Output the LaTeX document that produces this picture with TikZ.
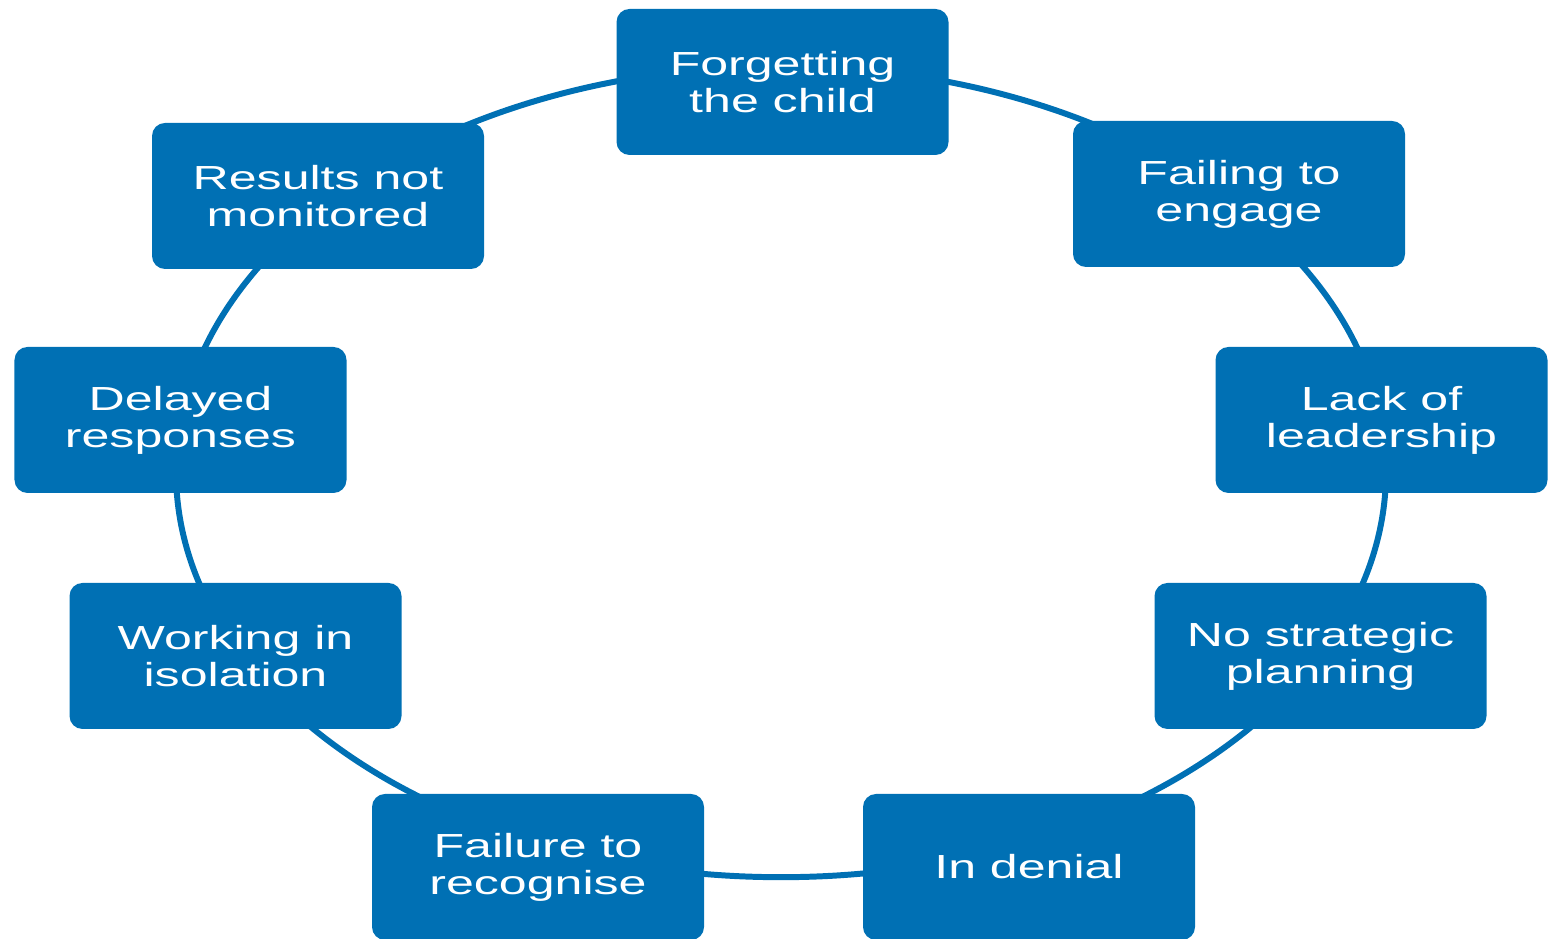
\documentclass[tikz,border=0pt]{standalone}
\usepackage{fontspec}
\usetikzlibrary{positioning}
\definecolor{ringblue}{RGB}{0,112,180}
\newfontfamily\ringfont[FakeStretch=1.5]{Liberation Sans}
\tikzset{
  stageblk/.style={rectangle,rounded corners=3.7pt,fill=ringblue,text=white,minimum width=3.32cm,minimum height=1.46cm,align=center,inner sep=2pt,font=\ringfont\fontsize{9.5}{10.5}\selectfont},
  ring/.style={draw=ringblue,line width=1.7pt}
}

\begin{document}
\begin{tikzpicture}
  \useasboundingbox (0,0) rectangle (15.48,9.39);
  % Ring behind the stages
  \coordinate (hub) at (7.81,4.673);
  \draw[ring] (hub) ellipse [x radius=6.05cm, y radius=4.055cm];

  % Stages, clockwise from the top
  \node[stageblk] (forget) at (7.825,8.57) {Forgetting\\the child};
  \node[stageblk] (engage) at (12.39,7.45) {Failing to\\engage};
  \node[stageblk] (lead)   at (13.815,5.19) {Lack of\\leadership};
  \node[stageblk] (plan)   at (13.205,2.83) {No strategic\\planning};
  \node[stageblk] (denial) at (10.29,0.72) {In denial};
  \node[stageblk] (recog)  at (5.38,0.72) {Failure to\\recognise};
  \node[stageblk] (isol)   at (2.355,2.83) {Working in\\isolation};
  \node[stageblk] (delay)  at (1.805,5.19) {Delayed\\responses};
  \node[stageblk] (monit)  at (3.18,7.43) {Results not\\monitored};

\end{tikzpicture}
\end{document}
